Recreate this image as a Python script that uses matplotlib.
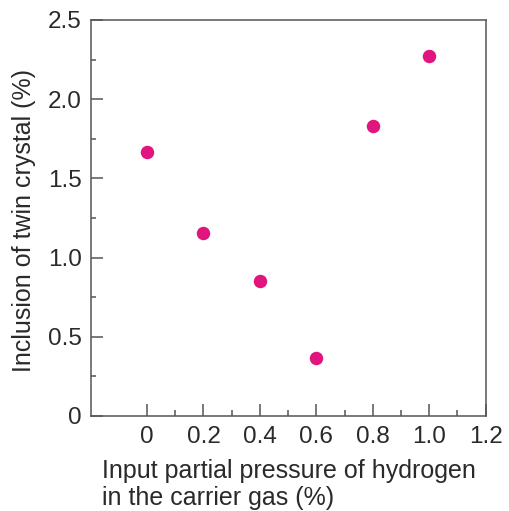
import matplotlib
matplotlib.use('Agg')
import matplotlib.pyplot as plt
from matplotlib.ticker import MultipleLocator

# pressao parcial de H2 (%) x inclusao de macla (%)
pressao_h2 = [0.0, 0.2, 0.4, 0.6, 0.8, 1.0]
inclusao_macla = [1.667, 1.155, 0.855, 0.366, 1.83, 2.27]

xticks = [0, 0.2, 0.4, 0.6, 0.8, 1.0, 1.2]
xtick_labels = ['0', '0.2', '0.4', '0.6', '0.8', '1.0', '1.2']
yticks = [0, 0.5, 1.0, 1.5, 2.0, 2.5]
ytick_labels = ['0', '0.5', '1.0', '1.5', '2.0', '2.5']

plt.rcParams['font.family'] = ['Liberation Sans', 'DejaVu Sans']

fig = plt.figure(figsize=(5.09, 5.11), dpi=100)
ax = fig.add_axes([0.178, 0.186, 0.776, 0.775])

ax.plot(pressao_h2, inclusao_macla, 'o', color='#e0157d', markersize=9.7,
        markeredgewidth=0, clip_on=False)

ax.set_xlim(-0.2, 1.2)
ax.set_ylim(0, 2.5)
ax.set_xticks(xticks)
ax.set_xticklabels(xtick_labels)
ax.set_yticks(yticks)
ax.set_yticklabels(ytick_labels)
ax.set_xticks([0.1, 0.3, 0.5, 0.7, 0.9, 1.1], minor=True)
ax.yaxis.set_minor_locator(MultipleLocator(0.25))

for s in ax.spines.values():
    s.set_color('#555555')
    s.set_linewidth(1.1)
ax.tick_params(which='both', direction='in', color='#555555', width=1.1,
               labelsize=17.5, labelcolor='#2a2a2a')
ax.tick_params(which='major', length=8.6)
ax.tick_params(axis='y', which='major', pad=6.5)
ax.tick_params(axis='x', which='major', pad=7)
ax.tick_params(axis='x', which='minor', length=4.3)
ax.tick_params(axis='y', which='minor', length=3.3)

# rotulos dos eixos
fig.text(24 / 509, 1 - 220 / 511, 'Inclusion of twin crystal (%)', rotation=90,
         ha='center', va='center', fontsize=18, color='#2a2a2a')
fig.text(102 / 509, 1 - 478 / 511, 'Input partial pressure of hydrogen',
         ha='left', va='baseline', fontsize=18, color='#2a2a2a')
fig.text(102 / 509, 1 - 505 / 511, 'in the carrier gas (%)',
         ha='left', va='baseline', fontsize=18, color='#2a2a2a')

fig.savefig('out.png', dpi=100)
